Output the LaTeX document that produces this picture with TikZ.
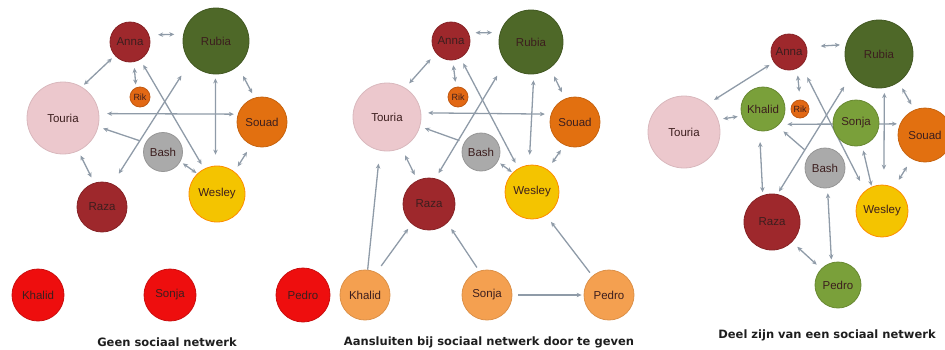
\documentclass[tikz,border=0pt]{standalone}
\usepackage{fontspec}
\setmainfont{Liberation Sans}
\newfontfamily\titlefont{DejaVu Sans}
\usetikzlibrary{arrows.meta,backgrounds}
\definecolor{annaC}{RGB}{158,40,44}
\definecolor{rubiaC}{RGB}{78,104,40}
\definecolor{rikC}{RGB}{226,104,20}
\definecolor{touriaC}{RGB}{236,200,205}
\definecolor{souadC}{RGB}{226,112,16}
\definecolor{bashC}{RGB}{170,170,170}
\definecolor{wesleyC}{RGB}{244,196,0}
\definecolor{redC}{RGB}{238,14,14}
\definecolor{orangeC}{RGB}{244,160,80}
\definecolor{greenC}{RGB}{122,160,58}
\definecolor{labC}{RGB}{60,30,30}
\definecolor{lineC}{RGB}{143,155,168}
\definecolor{titleC}{RGB}{30,30,30}
\begin{document}
\begin{tikzpicture}[x=1pt,y=-1pt,
  person/.style={circle,inner sep=0pt,line width=0.8pt,text=labC,font=\fontsize{11.5}{13}\selectfont},
  pAnna/.style={person,fill=annaC,draw=annaC!85!black},
  pRubia/.style={person,fill=rubiaC,draw=rubiaC!85!black},
  pRik/.style={person,fill=rikC,draw=rikC!85!black,font=\fontsize{9}{10}\selectfont},
  pTouria/.style={person,fill=touriaC,draw=touriaC!92!black},
  pSouad/.style={person,fill=souadC,draw=souadC!88!black},
  pBash/.style={person,fill=bashC,draw=bashC!88!black},
  pWesley/.style={person,fill=wesleyC,draw=orange!80!wesleyC},
  pRed/.style={person,fill=redC,draw=redC!85!black},
  pOrange/.style={person,fill=orangeC,draw=orangeC!90!black},
  pGreen/.style={person,fill=greenC,draw=greenC!85!black},
  link/.style={draw=lineC,line width=1.3pt,{Stealth[length=5pt,width=4.5pt]}-{Stealth[length=5pt,width=4.5pt]}},
  linkone/.style={draw=lineC,line width=1.3pt,-{Stealth[length=5pt,width=4.5pt]}},
  ttl/.style={font=\titlefont\bfseries\fontsize{11.5}{13}\selectfont,text=titleC}
]
\path[use as bounding box] (0,0) rectangle (945,349);

% ---------- Panel 1 ----------
\node[pAnna,minimum size=40pt] (a1) at (130,42) {Anna};
\node[pRubia,minimum size=66pt] (r1) at (216,41) {Rubia};
\node[pRik,minimum size=20pt] (k1) at (140,97) {Rik};
\node[pTouria,minimum size=72pt] (t1) at (63,118) {Touria};
\node[pSouad,minimum size=50pt] (s1) at (262,122) {Souad};
\node[pBash,minimum size=39pt] (b1) at (163,152) {Bash};
\node[pWesley,minimum size=56pt] (w1) at (217,194) {Wesley};
\node[pAnna,minimum size=50pt] (z1) at (102,207) {Raza};
\node[pRed,minimum size=52pt] (kh1) at (38,295) {Khalid};
\node[pRed,minimum size=52pt] (so1) at (170,295) {Sonja};
\node[ttl] (ti1) at (167,342) {Geen sociaal netwerk};

% ---------- Panel 2 ----------
\node[pAnna,minimum size=38pt] (a2) at (451,41) {Anna};
\node[pRubia,minimum size=64pt] (r2) at (531,42) {Rubia};
\node[pRik,minimum size=20pt] (k2) at (458,97) {Rik};
\node[pTouria,minimum size=68pt] (t2) at (387,117) {Touria};
\node[pSouad,minimum size=50pt] (s2) at (575,122) {Souad};
\node[pBash,minimum size=38pt] (b2) at (481,152) {Bash};
\node[pWesley,minimum size=54pt] (w2) at (532,192) {Wesley};
\node[pAnna,minimum size=52pt] (z2) at (429,204) {Raza};
\node[pRed,minimum size=54pt] (pe2r) at (303,295) {Pedro};
\node[pOrange,minimum size=50pt] (kh2) at (365,295) {Khalid};
\node[pOrange,minimum size=50pt] (so2) at (487,295) {Sonja};
\node[pOrange,minimum size=50pt] (pe2) at (609,295) {Pedro};
\node[ttl] (ti2) at (489,342) {Aansluiten bij sociaal netwerk door te geven};

% ---------- Panel 3 ----------
\node[pAnna,minimum size=36pt] (a3) at (789,52) {Anna};
\node[pRubia,minimum size=68pt] (r3) at (879,54) {Rubia};
\node[pGreen,minimum size=44pt] (kh3) at (763,109) {Khalid};
\node[pRik,minimum size=18pt] (k3) at (800,109) {Rik};
\node[pGreen,minimum size=46pt] (so3) at (856,123) {Sonja};
\node[pTouria,minimum size=72pt] (t3) at (684,132) {Touria};
\node[pSouad,minimum size=54pt] (s3) at (925,135) {Souad};
\node[pBash,minimum size=40pt] (b3) at (825,168) {Bash};
\node[pWesley,minimum size=52pt] (w3) at (882,211) {Wesley};
\node[pAnna,minimum size=56pt] (z3) at (772,222) {Raza};
\node[pGreen,minimum size=46pt] (pe3) at (838,285) {Pedro};
\node[ttl] (ti3) at (827,335) {Deel zijn van een sociaal netwerk};

\begin{scope}[on background layer]
% panel 1
\draw[link,shorten <=9pt,shorten >=9pt] (a1.20) -- (r1.168);
\draw[link,shorten <=4pt,shorten >=3pt] (a1.222) -- (t1.59);
\draw[link,shorten <=6pt,shorten >=3pt] (a1.281) -- (k1.113);
\draw[link,shorten <=6pt,shorten >=5pt] (a1.300) -- (w1.117);
\draw[link,shorten <=16pt,shorten >=12pt] (r1.219) -- (z1.66);
\draw[link,shorten <=8pt,shorten >=4pt] (t1.7) -- (s1.162);
\draw[link,shorten <=4pt,shorten >=11pt] (r1.269) -- (w1.93);
\draw[link,shorten <=11pt,shorten >=5pt] (r1.311) -- (s1.107);
\draw[link,shorten <=8pt,shorten >=6pt] (s1.245) -- (w1.52);
\draw[linkone,shorten <=6pt,shorten >=5pt] (b1.152) -- (t1.346);
\draw[link,shorten <=3pt,shorten >=1pt] (b1.331) -- (w1.134);
\draw[link,shorten <=5pt,shorten >=6pt] (t1.295) -- (z1.108);
% panel 2
\draw[link,shorten <=7pt,shorten >=8pt] (a2.25) -- (r2.163);
\draw[link,shorten <=8pt,shorten >=6pt] (a2.219) -- (t2.58);
\draw[link,shorten <=5pt,shorten >=5pt] (a2.275) -- (k2.101);
\draw[link,shorten <=6pt,shorten >=6pt] (a2.299) -- (w2.120);
\draw[link,shorten <=16pt,shorten >=6pt] (r2.218) -- (z2.76);
\draw[link,shorten <=7pt,shorten >=6pt] (t2.7) -- (s2.162);
\draw[link,shorten <=6pt,shorten >=10pt] (r2.275) -- (w2.96);
\draw[link,shorten <=9pt,shorten >=7pt] (r2.306) -- (s2.113);
\draw[link,shorten <=6pt,shorten >=8pt] (s2.245) -- (w2.55);
\draw[linkone,shorten <=5pt,shorten >=5pt] (b2.150) -- (t2.344);
\draw[link,shorten <=3pt,shorten >=1pt] (b2.330) -- (w2.135);
\draw[link,shorten <=8pt,shorten >=6pt] (t2.295) -- (z2.116);
\draw[linkone,shorten <=0pt,shorten >=13pt] (kh2.84) -- (t2.258);
\draw[linkone,shorten <=8pt,shorten >=6pt] (kh2.63) -- (z2.229);
\draw[linkone,shorten <=4pt,shorten >=7pt] (so2.108) -- (z2.314);
\draw[linkone,shorten <=6pt,shorten >=2pt] (so2.0) -- (pe2.180);
\draw[linkone,shorten <=4pt,shorten >=8pt] (pe2.131) -- (w2.301);
% panel 3
\draw[link,shorten <=14pt,shorten >=6pt] (a3.16) -- (r3.164);
\draw[link,shorten <=5pt,shorten >=8pt] (a3.214) -- (t3.50);
\draw[link,shorten <=7pt,shorten >=8pt] (a3.296) -- (k3.90);
\draw[link,shorten <=13pt,shorten >=11pt] (a3.312) -- (w3.130);
\draw[link,shorten <=14pt,shorten >=3pt] (r3.217) -- (z3.79);
\draw[link,shorten <=5pt,shorten >=4pt] (t3.20) -- (kh3.198);
\draw[link,shorten <=8pt,shorten >=3pt] (kh3.317) -- (s3.156);
\draw[linkone,shorten <=7pt,shorten >=8pt] (b3.138) -- (kh3.310);
\draw[link,shorten <=11pt,shorten >=3pt] (kh3.261) -- (z3.109);
\draw[link,shorten <=5pt,shorten >=15pt] (r3.279) -- (w3.86);
\draw[link,shorten <=7pt,shorten >=6pt] (r3.305) -- (s3.113);
\draw[link,shorten <=9pt,shorten >=9pt] (s3.241) -- (w3.63);
\draw[link,shorten <=5pt,shorten >=1pt] (so3.285) -- (w3.113);
\draw[link,shorten <=5pt,shorten >=3pt] (b3.277) -- (pe3.106);
\draw[link,shorten <=7pt,shorten >=6pt] (z3.315) -- (pe3.136);
\end{scope}
\end{tikzpicture}
\end{document}
